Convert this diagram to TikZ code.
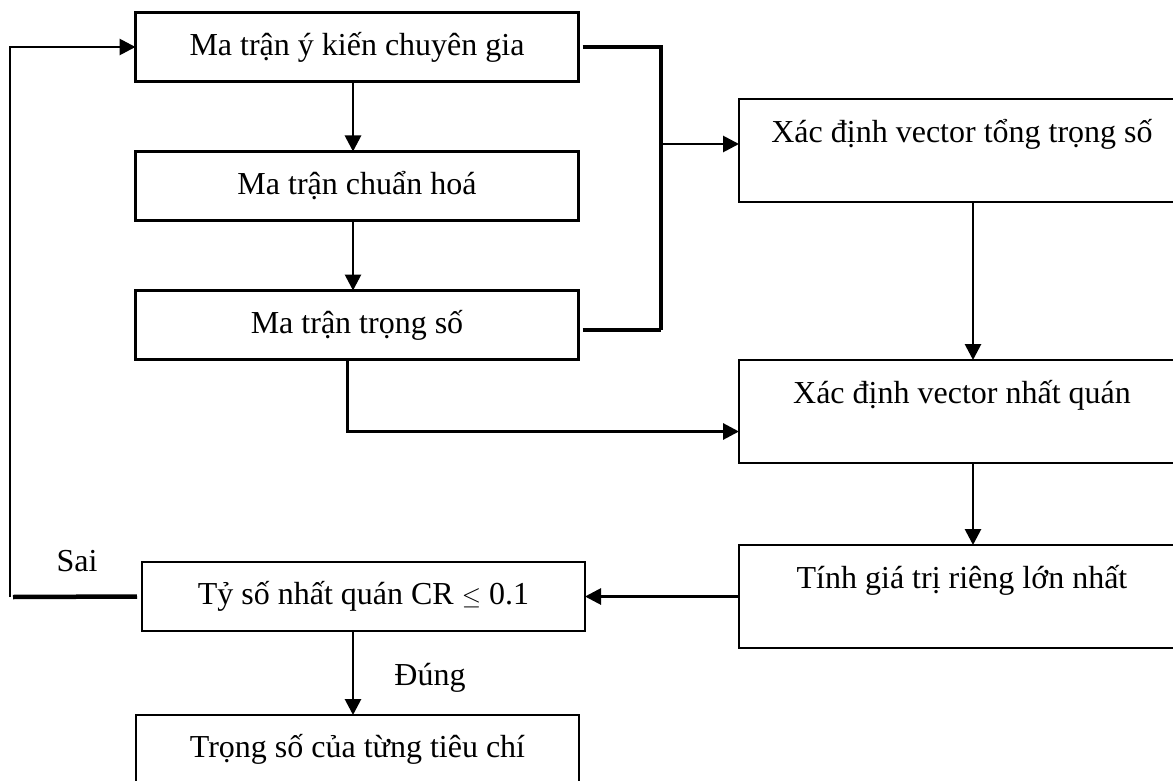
\documentclass[tikz,border=0pt]{standalone}
\usepackage{fontspec}
\setmainfont{Liberation Serif}
\usepackage{tikz}
\usetikzlibrary{arrows.meta,positioning}
\tikzstyle{block} = [rectangle, draw, line width=2.8pt, inner sep=0pt, outer sep=0pt,
minimum width=443pt, minimum height=69pt, text centered]
\tikzstyle{block2} = [rectangle, draw, line width=2.8pt, inner sep=0pt, outer sep=0pt,
minimum width=446pt, minimum height=103pt, align=center]
\tikzstyle{line} = [draw, line width=2.8pt, -{Triangle[length=16pt,width=16pt]}]
\tikzstyle{thickline} = [draw, line width=4.5pt]
\tikzstyle{tag} = [inner sep=0pt, anchor=base]

\begin{document}
\begin{tikzpicture}[x=1pt, y=-1pt, node distance = 70pt and 40pt,
	every node/.style={font=\fontsize{32}{40}\selectfont}]
	
	\clip (0,0) rectangle (1173,781);
	
	% Left column
	\node [block] (expert) at (357,47) {Ma trận ý kiến chuyên gia};
	\node [block, below=of expert] (norm) {Ma trận chuẩn hoá};
	\node [block, below=of norm] (weight) {Ma trận trọng số};
	\node [block] (ratio) at (363.5,596.5) {Tỷ số nhất quán CR $\leq$ 0.1};
	\node [block, below=84pt of ratio, xshift=-6pt] (final) {Trọng số của từng tiêu chí};
	
	% Right column
	\node [block2] (sumvec) at (962,150.5) {Xác định vector tổng trọng số\\\mbox{}};
	\node [block2, below=158pt of sumvec] (consvec) {Xác định vector nhất quán\\\mbox{}};
	\node [block2, below=82pt of consvec] (eigen) {Tính giá trị riêng lớn nhất\\\mbox{}};
	
	% Labels
	\node [tag] (sai) at (77,571) {Sai};
	\node [tag] (dung) at (430,685) {Đúng};
	
	% Junctions
	\coordinate (join) at (661,144);
	\coordinate (back) at (10,597);
	
	% Edges
	\path [line] ([xshift=-4pt]expert.south) -- ([xshift=-4pt]norm.north);
	\path [line] ([xshift=-4pt]norm.south) -- ([xshift=-4pt]weight.north);
	\path [thickline] ([xshift=4pt]expert.east) -- (expert.east -| join) -- ([yshift=-5pt]weight.east -| join);
	\path [thickline] ([xshift=4pt,yshift=-5pt]weight.east) -- ([yshift=-5pt]weight.east -| join);
	\path [line] (join) -- (sumvec.west |- join);
	\path [line, line width=3pt] ([xshift=-10pt]weight.south) |- ([yshift=-20pt]consvec.west);
	\path [line] ([xshift=11pt]sumvec.south) -- ([xshift=11pt]consvec.north);
	\path [line] ([xshift=11pt]consvec.south) -- ([xshift=11pt]eigen.north);
	\path [line] (eigen.west |- ratio.east) -- (ratio.east);
	\path [line] ([xshift=-10.5pt]ratio.south) -- ([xshift=-10.5pt]ratio.south |- final.north);
	\path [thickline] ([xshift=-5pt]ratio.west) -- ([xshift=3pt]back);
	\path [line] (back) -- (back |- expert.west) -- (expert.west);
	
\end{tikzpicture}
\end{document}
